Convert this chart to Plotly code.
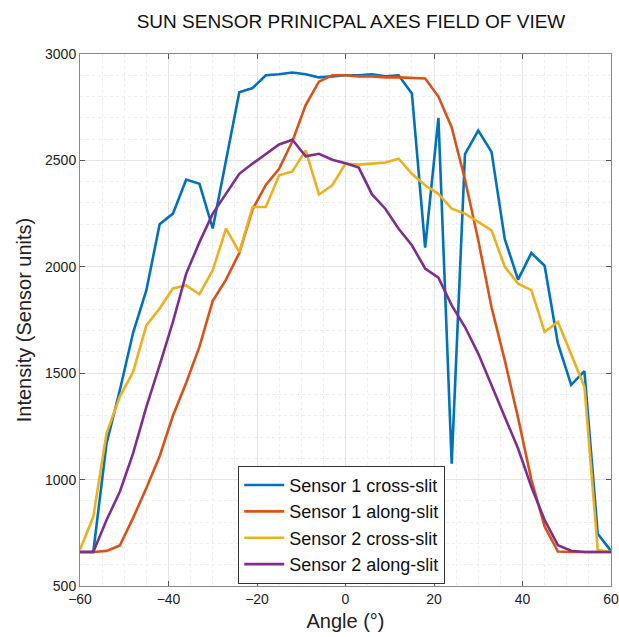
import plotly.graph_objects as go

# Angles sampled every 3 degrees from -60 to 60
angle = list(range(-60, 61, 3))

s1_cross = [660, 660, 1170, 1420, 1690, 1890, 2200, 2250, 2410, 2390, 2180, 2500,
            2820, 2840, 2900, 2905, 2913, 2905, 2890, 2895, 2900, 2900, 2905, 2895,
            2900, 2815, 2090, 2700, 1075, 2530, 2640, 2540, 2130, 1940, 2065, 2005,
            1640, 1445, 1510, 745, 665]
s1_along = [660, 660, 665, 690, 820, 960, 1110, 1300, 1455, 1625, 1840, 1940,
            2065, 2270, 2385, 2460, 2590, 2760, 2870, 2900, 2900, 2895, 2895, 2890,
            2890, 2888, 2885, 2800, 2655, 2410, 2125, 1810, 1560, 1290, 1000, 780,
            662, 660, 660, 660, 660]
s2_cross = [670, 825, 1217, 1390, 1506, 1725, 1804, 1898, 1913, 1871, 1984, 2179,
            2069, 2281, 2281, 2430, 2448, 2547, 2340, 2383, 2485, 2480, 2485, 2490,
            2508, 2437, 2383, 2343, 2273, 2250, 2211, 2171, 2000, 1921, 1890, 1694,
            1741, 1592, 1436, 669, 660]
s2_along = [660, 660, 810, 943, 1123, 1342, 1538, 1741, 1968, 2116, 2250, 2344,
            2437, 2485, 2531, 2575, 2597, 2519, 2531, 2503, 2487, 2466, 2340, 2273,
            2179, 2101, 1992, 1949, 1819, 1717, 1592, 1444, 1295, 1146, 966, 810,
            692, 666, 660, 660, 660]

series_names = ["Sensor 1 cross-slit", "Sensor 1 along-slit",
                "Sensor 2 cross-slit", "Sensor 2 along-slit"]
series_colors = ["#0072BD", "#D95319", "#EDB120", "#7E2F8E"]

FONT = "Liberation Sans, Arial"

fig = go.Figure()
for name, ys, col in zip(series_names, [s1_cross, s1_along, s2_cross, s2_along], series_colors):
    fig.add_trace(go.Scatter(x=angle, y=ys, mode="lines", name=name,
                             line=dict(color=col, width=2.6)))

axis_common = dict(
    showline=True, linecolor="#8a8a8a", linewidth=1, mirror="allticks",
    ticks="inside", ticklen=5, tickcolor="#555555",
    showgrid=True, gridcolor="#e3e3e3", gridwidth=1,
    zeroline=False, automargin=False,
    tickfont=dict(family=FONT, size=14, color="#222222"),
)

fig.update_xaxes(
    range=[-60, 60], dtick=20, tick0=-60,
    minor=dict(dtick=5, showgrid=True, gridcolor="#eeeeee", griddash="dot", ticks=""),
    title=dict(text="Angle (°)", font=dict(family=FONT, size=20, color="#222222"),
               standoff=8),
    **axis_common,
)
fig.update_yaxes(
    range=[500, 3000], dtick=500, tick0=500,
    minor=dict(dtick=100, showgrid=True, gridcolor="#eeeeee", griddash="dot", ticks=""),
    title=dict(text="Intensity (Sensor units)", font=dict(family=FONT, size=20, color="#222222"),
               standoff=8),
    **axis_common,
)

fig.update_layout(
    width=619, height=637,
    margin=dict(l=80, r=8, t=54, b=51),
    paper_bgcolor="white", plot_bgcolor="white",
    title=dict(text="SUN SENSOR PRINICPAL AXES FIELD OF VIEW",
               font=dict(family=FONT, size=19, color="#111111"),
               x=0.567, xanchor="center", y=0.966, yanchor="middle"),
    legend=dict(x=0.298, y=0.226, xanchor="left", yanchor="top",
                bgcolor="white", bordercolor="#333333", borderwidth=1,
                font=dict(family=FONT, size=18, color="#111111"),
                tracegroupgap=0, itemwidth=40),
    showlegend=True,
)

fig.write_html("out.html")
